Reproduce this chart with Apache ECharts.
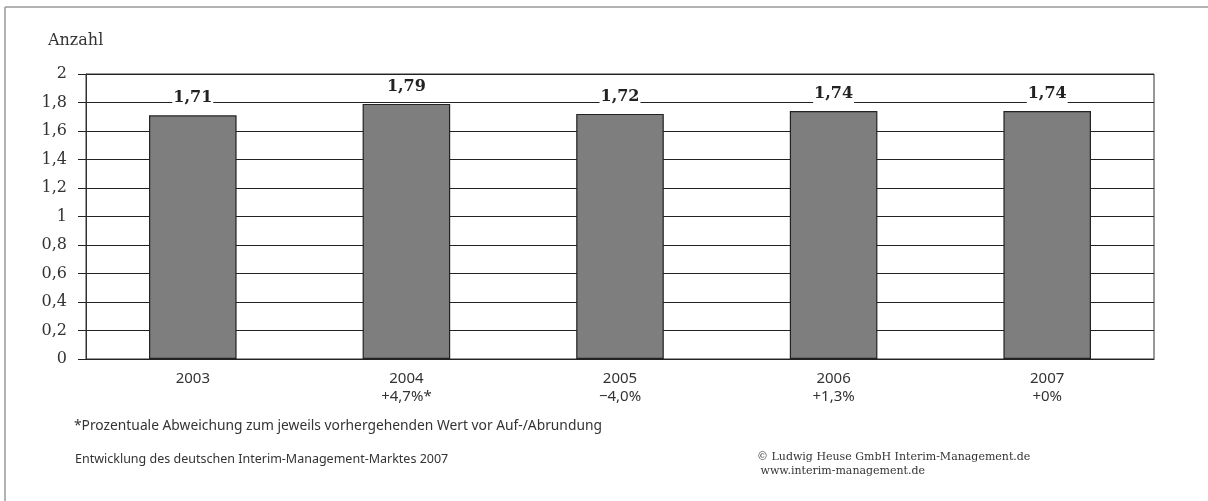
<!DOCTYPE html>
<html>
<head>
<meta charset="utf-8">
<script src="https://cdn.jsdelivr.net/npm/echarts@6/dist/echarts.min.js"></script>
<style>
  html, body { margin: 0; padding: 0; background: #fff; }
  #chart { width: 1208px; height: 501px; }
</style>
</head>
<body>
<div id="chart"></div>
<script>
// Durchschnittliche Anzahl je Jahr
const years = ['2003', '2004', '2005', '2006', '2007'];
const values = [1.71, 1.79, 1.72, 1.74, 1.74];
const changes = ['', '+4,7%*', '\u22124,0%', '+1,3%', '+0%'];
const yTicks = [0, 0.2, 0.4, 0.6, 0.8, 1, 1.2, 1.4, 1.6, 1.8, 2];

const footnote = '*Prozentuale Abweichung zum jeweils vorhergehenden Wert vor Auf-/Abrundung';
const caption = 'Entwicklung des deutschen Interim-Management-Marktes 2007';
const copyright = '\u00A9 Ludwig Heuse GmbH Interim-Management.de';
const website = ' www.interim-management.de';

const serif = '"DejaVu Serif", serif';
const sans = '"Noto Sans", sans-serif';
const fmt = v => String(v).replace('.', ',');

const chart = echarts.init(document.getElementById('chart'), null, { renderer: 'canvas' });

chart.setOption({
  backgroundColor: '#fff',
  animation: false,
  grid: {
    left: 86, right: 54, top: 74, bottom: 142,
    show: true, borderColor: '#333', borderWidth: 1
  },
  xAxis: {
    type: 'category',
    data: years,
    axisLine: { lineStyle: { color: '#222', width: 1 } },
    axisTick: { show: false },
    axisLabel: {
      margin: 11,
      lineHeight: 18,
      color: '#333',
      fontFamily: sans,
      fontSize: 15,
      formatter: (v, i) => changes[i] ? v + '\n' + changes[i] : v
    }
  },
  yAxis: {
    type: 'value',
    min: yTicks[0],
    max: yTicks[yTicks.length - 1],
    interval: 0.2,
    axisLine: { show: true, lineStyle: { color: '#333', width: 1 } },
    axisTick: { show: true, length: 8, lineStyle: { color: '#222' } },
    splitLine: { show: true, lineStyle: { color: '#222', width: 1 } },
    axisLabel: {
      margin: 19,
      color: '#333',
      fontFamily: serif,
      fontSize: 16,
      formatter: v => fmt(Math.round(v * 10) / 10)
    }
  },
  series: [{
    type: 'bar',
    data: values,
    barWidth: '41%',
    itemStyle: { color: '#7e7e7e', borderColor: '#222', borderWidth: 1.2 },
    label: {
      show: true,
      position: 'top',
      distance: 7,
      formatter: p => fmt(p.value),
      fontFamily: serif,
      fontWeight: 'bold',
      fontSize: 16,
      color: '#222',
      backgroundColor: '#fff',
      padding: [3, 1, 2, 1]
    }
  }],
  graphic: [
    { type: 'line', shape: { x1: 5, y1: 7, x2: 1208, y2: 7 }, style: { stroke: '#999', lineWidth: 1.5 }, silent: true },
    { type: 'line', shape: { x1: 5, y1: 7, x2: 5, y2: 501 }, style: { stroke: '#999', lineWidth: 1.5 }, silent: true },
    { type: 'text', left: 48, top: 33, style: { text: 'Anzahl', font: '16px ' + serif, fill: '#333' } },
    { type: 'text', left: 74, top: 419, style: { text: footnote, font: '13.8px ' + sans, fill: '#333' } },
    { type: 'text', left: 75, top: 453, style: { text: caption, font: '12.5px ' + sans, fill: '#333' } },
    { type: 'text', left: 757, top: 450, style: { text: copyright + '\n' + website, font: '11px ' + serif, fill: '#333', lineHeight: 14 } }
  ]
});
</script>
</body>
</html>
